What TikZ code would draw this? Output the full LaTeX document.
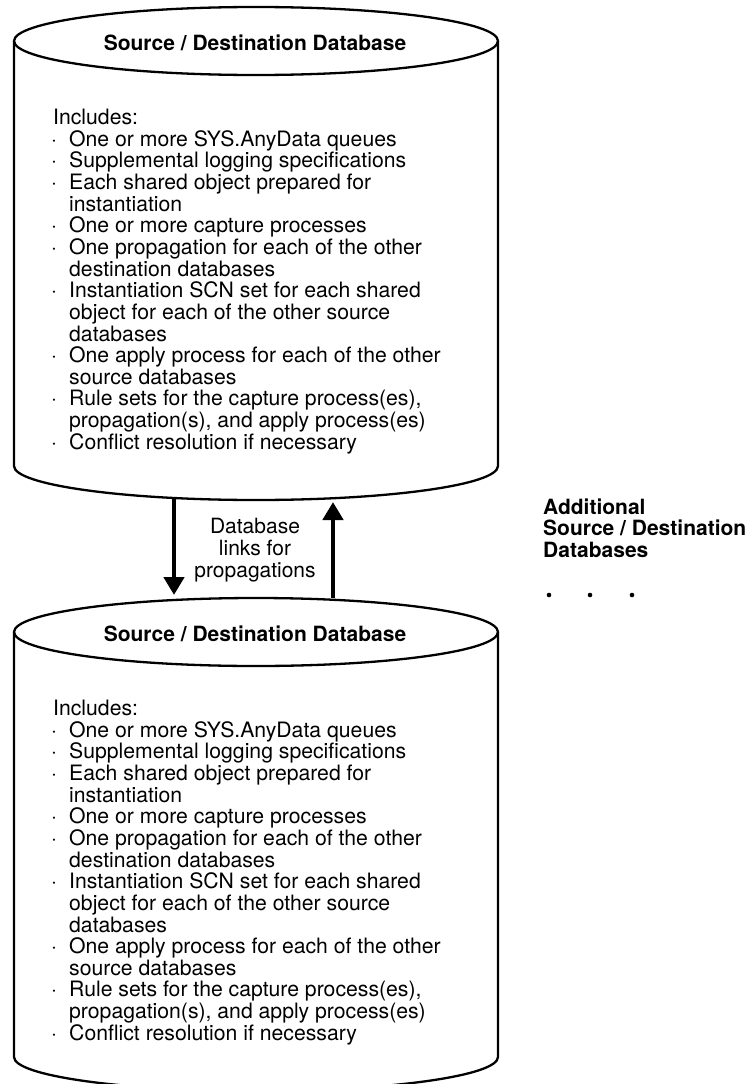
\documentclass[tikz,border=0pt]{standalone}
\usepackage{fontspec}
\setmainfont{TeX Gyre Heros}
\usetikzlibrary{arrows.meta}

\tikzset{
  outline/.style={line width=2.3pt, line join=round},
  titletext/.style={font=\bfseries\fontsize{21}{22}\selectfont, inner sep=0pt},
  itemtext/.style={font=\fontsize{21.2}{21.65}\selectfont, inner sep=0pt, anchor=base west},
  linkarrow/.style={line width=4.8pt, -{Triangle[width=20pt,length=18pt]}},
  linktext/.style={font=\fontsize{21}{21.65}\selectfont, align=center, inner sep=0pt},
  sidetext/.style={font=\bfseries\fontsize{21}{21.65}\selectfont, inner sep=0pt, anchor=base west},
}

% one database drum: top ellipse, sides and lower rim, with its title and list
\newcommand\dbdrum[2]{% #1 = y of top ellipse centre, #2 = name prefix
  \draw[outline] (256,#1) ellipse [x radius=242pt, y radius=34pt];
  \draw[outline] (14,#1) -- (14,#1+425)
     arc [start angle=180, end angle=360, x radius=242pt, y radius=34pt]
     -- (498,#1);
  \node[titletext] (#2title) at (255,#1+2) {Source / Destination Database};
  \foreach \b/\t [count=\i from 0] in {
      0/{Includes:},
      1/{One or more SYS.AnyData queues},
      1/{Supplemental logging specifications},
      1/{Each shared object prepared for},
      2/{instantiation},
      1/{One or more capture processes},
      1/{One propagation for each of the other},
      2/{destination databases},
      1/{Instantiation SCN set for each shared},
      2/{object for each of the other source},
      2/{databases},
      1/{One apply process for each of the other},
      2/{source databases},
      1/{Rule sets for the capture process(es),},
      2/{propagation(s), and apply process(es)},
      1/{Conflict resolution if necessary}} {
    \ifnum\b=0
      \node[itemtext] (#2line\i) at (53,#1+83.5+21.65*\i) {\t};
    \else
      \ifnum\b=1
        \node[itemtext] (#2dot\i) at (51,#1+83.5+21.65*\i) {\textperiodcentered};
      \fi
      \node[itemtext] (#2line\i) at (69,#1+83.5+21.65*\i) {\t};
    \fi
  }
}

\begin{document}
\begin{tikzpicture}[x=1pt, y=-1pt]
  \useasboundingbox (0,0) rectangle (749,1084);

  \dbdrum{41}{upper}
  \dbdrum{632}{lower}

  % link endpoints on the rims
  \coordinate (downstart) at (174,499);
  \coordinate (downend)   at (174,595);
  \coordinate (upstart)   at (333,598);
  \coordinate (upend)     at (333,502);

  \draw[linkarrow] (downstart) -- (downend);
  \draw[linkarrow] (upstart) -- (upend);

  \node[linktext] (links) at (255,550) {Database\\links for\\propagations};

  \node[sidetext] (add1) at (543,514) {Additional};
  \node[sidetext] (add2) at (543,535.65) {Source / Destination};
  \node[sidetext] (add3) at (543,557.3) {Databases};

  \fill (549,595) circle [radius=2.3pt];
  \fill (590,595) circle [radius=2.3pt];
  \fill (632,595) circle [radius=2.3pt];
\end{tikzpicture}
\end{document}
